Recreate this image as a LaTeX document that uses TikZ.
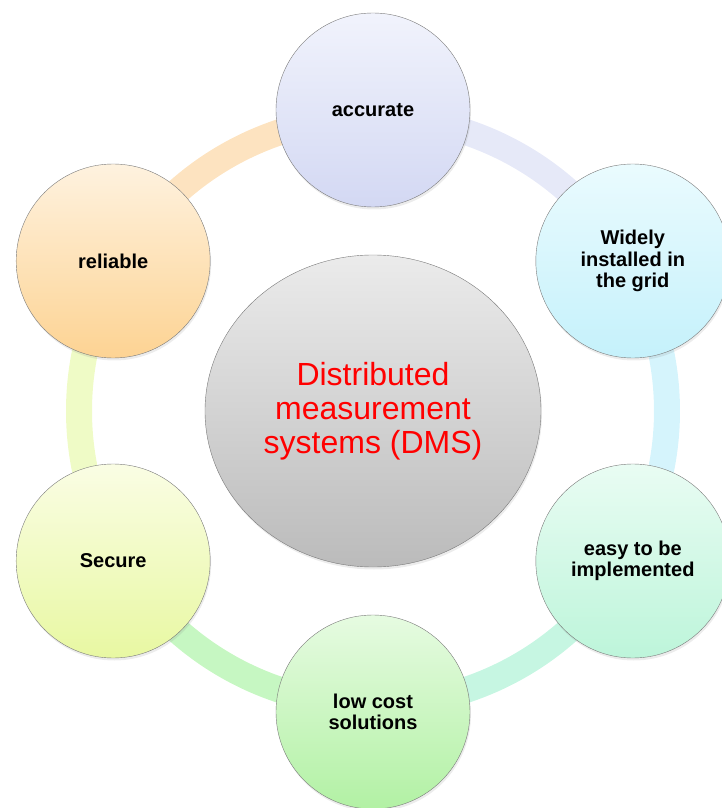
\documentclass[tikz,border=0pt]{standalone}
\usepackage{fontspec}
\setmainfont{Liberation Sans}
\usepackage{tikz}
\usetikzlibrary{shapes.geometric,shadows}

\definecolor{accTop}{HTML}{F1F3FC}  \definecolor{accBot}{HTML}{D3D8F3}
\definecolor{widTop}{HTML}{EAFBFE}  \definecolor{widBot}{HTML}{C5F1FB}
\definecolor{easTop}{HTML}{E9FCF3}  \definecolor{easBot}{HTML}{BDF5DA}
\definecolor{lowTop}{HTML}{E6FBE1}  \definecolor{lowBot}{HTML}{B2F1A4}
\definecolor{secTop}{HTML}{FAFDE4}  \definecolor{secBot}{HTML}{E8F8A2}
\definecolor{relTop}{HTML}{FEF2DF}  \definecolor{relBot}{HTML}{FDD393}
\definecolor{dmsTop}{HTML}{EBEBEB}  \definecolor{dmsBot}{HTML}{BBBBBB}
\definecolor{relRing}{HTML}{FDE3C0}
\definecolor{accRing}{HTML}{E6E9F8}
\definecolor{widRing}{HTML}{D5F4FC}
\definecolor{easRing}{HTML}{C6F6E2}
\definecolor{lowRing}{HTML}{C6F7C2}
\definecolor{secRing}{HTML}{EFFBC6}
\definecolor{rim}{HTML}{7A7A7A}

\begin{document}
\begin{tikzpicture}[
    x=1pt,y=1pt,
    bubble/.style={circle,draw=rim,thin,minimum size=194pt,inner sep=0pt,align=center,
      font=\bfseries\fontsize{20}{21.5}\selectfont,
      drop shadow={opacity=0.15,shadow xshift=1pt,shadow yshift=-2.5pt}},
    ring/.style={line width=26pt},
    hub/.style={ellipse,draw=rim,thin,minimum width=336pt,minimum height=312pt,
      inner sep=0pt,align=center,text=red,top color=dmsTop,bottom color=dmsBot,
      font=\fontsize{32}{34}\selectfont,
      drop shadow={opacity=0.15,shadow xshift=1pt,shadow yshift=-2.5pt}}
    ]
    \useasboundingbox (-373,-397) rectangle (349,411);
    % ring pieces, clockwise
    \foreach \a/\c in {150/relRing,90/accRing,30/widRing,-30/easRing,-90/lowRing,-150/secRing}
      \draw[ring,\c] (\a:294) arc[start angle=\a,end angle=\a-60,radius=294];
    \node[hub] (dms) at (0,0) {Distributed\\measurement\\systems (DMS)};
    \node[bubble,top color=accTop,bottom color=accBot] (accurate) at (90:301) {accurate};
    \node[bubble,top color=widTop,bottom color=widBot] (widely) at (30:300) {Widely\\installed in\\the grid};
    \node[bubble,top color=easTop,bottom color=easBot] (easy) at (-30:300) {easy to be\\implemented};
    \node[bubble,top color=lowTop,bottom color=lowBot] (lowcost) at (-90:301) {low cost\\solutions};
    \node[bubble,top color=secTop,bottom color=secBot] (secure) at (-150:300) {Secure};
    \node[bubble,top color=relTop,bottom color=relBot] (reliable) at (150:300) {reliable};
  \end{tikzpicture}
\end{document}
